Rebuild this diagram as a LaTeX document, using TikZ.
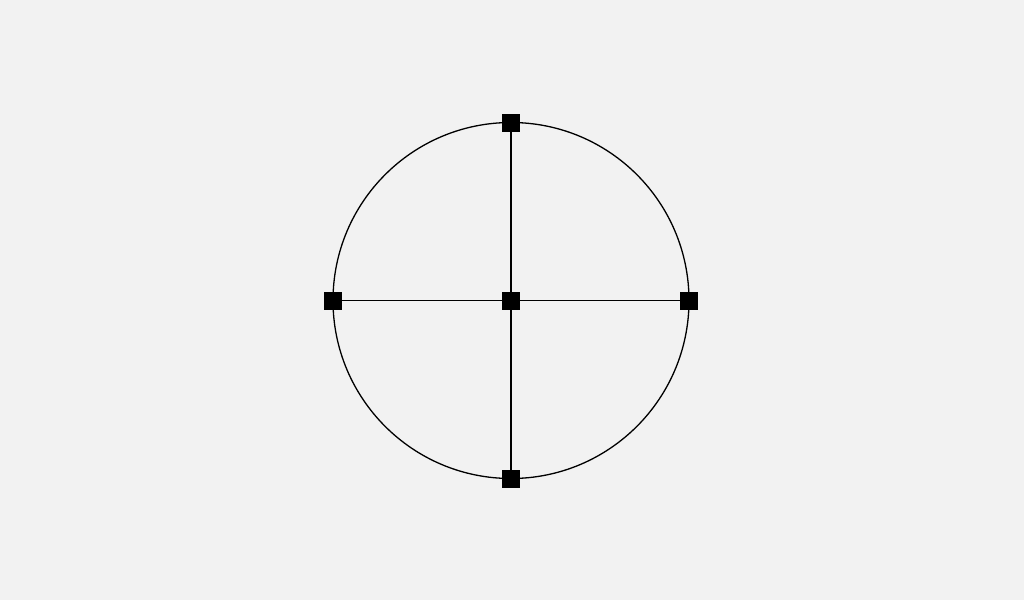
\documentclass[tikz,border=0pt]{standalone}
\definecolor{bg}{HTML}{F2F2F2}
\tikzset{
  sq/.style={draw=black, fill=black, minimum size=17pt, inner sep=0pt, outer sep=0pt, line width=0.5pt},
  ln/.style={draw=black, line width=1.3pt}
}
\begin{document}
\begin{tikzpicture}[x=1pt,y=-1pt]
\fill[bg] (0,0) rectangle (1024,600);
\useasboundingbox (0,0) rectangle (1024,600);
\coordinate (c) at (511,300.5);
\draw[ln] (c) circle (178);
\node[sq] (t) at (511,122.5) {};
\node[sq] (b) at (511,478.5) {};
\node[sq] (l) at (333,300.5) {};
\node[sq] (r) at (689,300.5) {};
\draw[ln] (t) -- (b);
\draw[ln] (l) -- (r);
\node[sq] (m) at (c) {};
\end{tikzpicture}
\end{document}
